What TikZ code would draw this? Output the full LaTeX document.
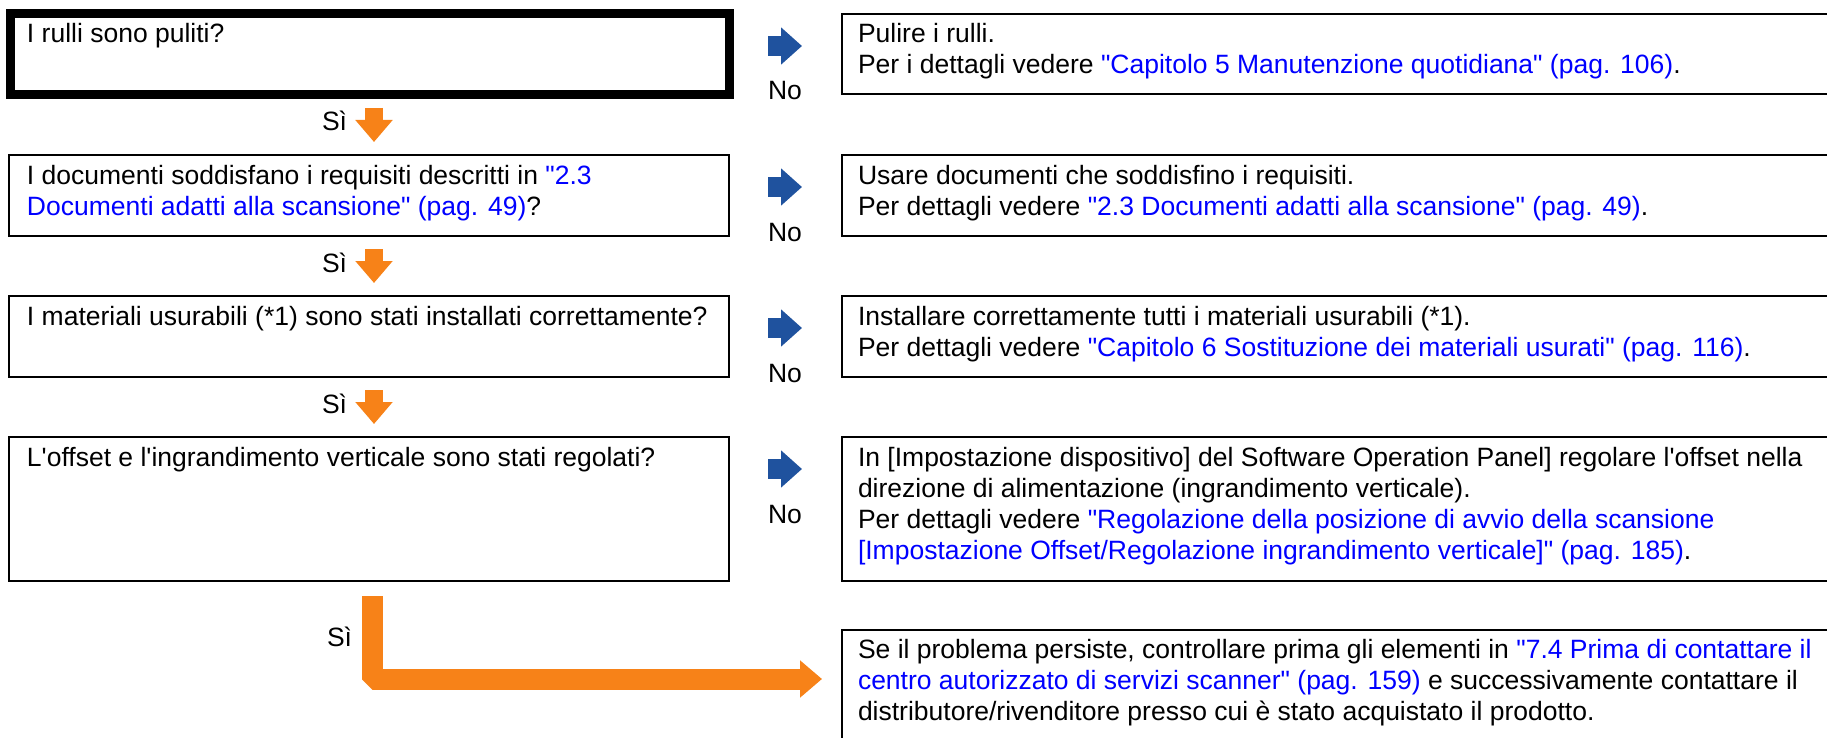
\documentclass[tikz,border=0pt]{standalone}
\usepackage{fontspec}
\setmainfont{Liberation Sans}[Ligatures=TeXOff]
\usetikzlibrary{arrows.meta,calc}
\definecolor{noblue}{RGB}{31,82,158}
\definecolor{siorange}{RGB}{247,130,24}
\definecolor{linkblue}{RGB}{0,0,255}
\newcommand{\lnk}[1]{\textcolor{linkblue}{#1}}
\newcommand{\fs}{\rule{0pt}{22pt}}
\begin{document}
\begin{tikzpicture}[x=1pt,y=1pt,
  every node/.style={font=\fontsize{26.5}{31}\selectfont, inner sep=0pt, outer sep=0pt},
  qbox/.style={draw, line width=2pt, rectangle, minimum width=720pt, anchor=north west},
  abox/.style={draw, line width=2pt, rectangle, minimum width=1100pt, anchor=north west},
  txt/.style={anchor=north west, align=left},
  nolabel/.style={anchor=base},
  silabel/.style={anchor=base west},
  noarrow/.style={noblue, line width=20pt, -{Triangle[length=21pt,width=36pt]}},
  siarrow/.style={siorange, line width=18pt, -{Triangle[length=22pt,width=36pt]}},
  bigarrow/.style={siorange, line width=21pt, line join=bevel, -{Triangle[length=22pt,width=36pt]}},
]
\useasboundingbox (0,0) rectangle (1827,-738);
\clip (0,0) rectangle (1827,-738);
\fill[white] (0,0) rectangle (1827,-738);

% question boxes
\node[qbox, line width=9pt, minimum width=718.5pt, minimum height=80.5pt] (q1) at (10.5,-14) {};
\node[qbox, minimum height=81pt] (q2) at (9,-155) {};
\node[qbox, minimum height=81pt] (q3) at (9,-296) {};
\node[qbox, minimum height=144pt] (q4) at (9,-437) {};

% answer boxes
\node[abox, minimum height=80pt] (r1) at (842,-14) {};
\node[abox, minimum height=81pt] (r2) at (842,-155) {};
\node[abox, minimum height=81pt] (r3) at (842,-296) {};
\node[abox, minimum height=144pt] (r4) at (842,-437) {};
\node[abox, minimum height=200pt] (r5) at (842,-630) {};

% texts
\node[txt] (t1) at (27,-21) {\fs I rulli sono puliti?};
\node[txt] (t2) at (27,-162) {\fs I documenti soddisfano i requisiti descritti in \lnk{"2.3}\\\lnk{Documenti adatti alla scansione" (pag. 49)}?};
\node[txt] (t3) at (27,-303) {\fs I materiali usurabili (*1) sono stati installati correttamente?};
\node[txt] (t4) at (27,-444) {\fs L'offset e l'ingrandimento verticale sono stati regolati?};

\node[txt] (a1) at (858,-21) {\fs Pulire i rulli.\\Per i dettagli vedere \lnk{"Capitolo 5 Manutenzione quotidiana" (pag. 106)}.};
\node[txt] (a2) at (858,-162) {\fs Usare documenti che soddisfino i requisiti.\\Per dettagli vedere \lnk{"2.3 Documenti adatti alla scansione" (pag. 49)}.};
\node[txt] (a3) at (858,-303) {\fs Installare correttamente tutti i materiali usurabili (*1).\\Per dettagli vedere \lnk{"Capitolo 6 Sostituzione dei materiali usurati" (pag. 116)}.};
\node[txt] (a4) at (858,-444) {\fs In [Impostazione dispositivo] del Software Operation Panel] regolare l'offset nella\\direzione di alimentazione (ingrandimento verticale).\\Per dettagli vedere \lnk{"Regolazione della posizione di avvio della scansione}\\\lnk{[Impostazione Offset/Regolazione ingrandimento verticale]" (pag. 185)}.};
\node[txt] (a5) at (858,-636) {\fs Se il problema persiste, controllare prima gli elementi in \lnk{"7.4 Prima di contattare il}\\\lnk{centro autorizzato di servizi scanner" (pag. 159)} e successivamente contattare il\\distributore/rivenditore presso cui è stato acquistato il prodotto.};

% labels
\node[silabel] (s1) at (322,-131) {Sì};
\node[silabel] (s2) at (322,-272) {Sì};
\node[silabel] (s3) at (322,-413) {Sì};
\node[silabel] (s4) at (327,-646) {Sì};
\node[nolabel] (n1) at (785,-100) {No};
\node[nolabel] (n2) at (785,-241) {No};
\node[nolabel] (n3) at (785,-382) {No};
\node[nolabel] (n4) at (785,-523) {No};

% yes arrows
\draw[siarrow] ($(q2.north |- q1.south)+(5,-13.5)$) -- ($(q2.north)+(5,13)$);
\draw[siarrow] ($(q3.north |- q2.south)+(5,-13)$) -- ($(q3.north)+(5,13)$);
\draw[siarrow] ($(q4.north |- q3.south)+(5,-13)$) -- ($(q4.north)+(5,13)$);

% no arrows
\draw[noarrow] ($(q1.north east)+(39,-32)$) -- ($(r1.north west)+(-40,-32)$);
\draw[noarrow] ($(q2.north east)+(39,-32)$) -- ($(r2.north west)+(-40,-32)$);
\draw[noarrow] ($(q3.north east)+(39,-32)$) -- ($(r3.north west)+(-40,-32)$);
\draw[noarrow] ($(q4.north east)+(39,-32)$) -- ($(r4.north west)+(-40,-32)$);

% final arrow
\coordinate (fstart) at ($(q4.south)+(3.5,-15)$);
\coordinate (fend) at ($(r5.north west)+(-20,-49)$);
\draw[bigarrow] (fstart) |- (fend);
\end{tikzpicture}
\end{document}
